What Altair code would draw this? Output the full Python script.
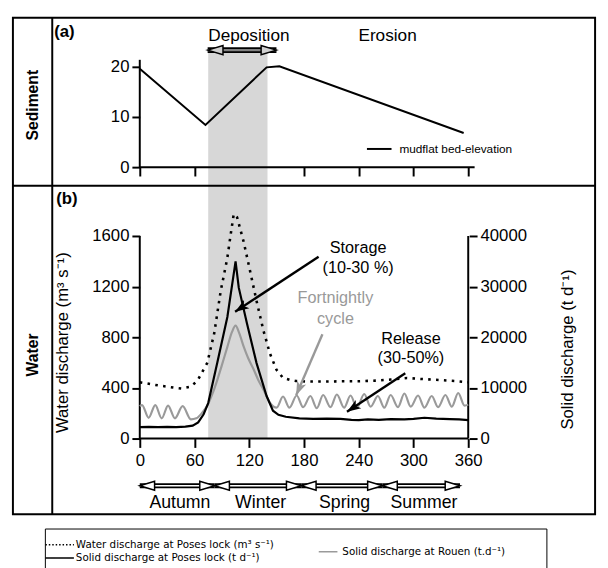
import math
import altair as alt
import pandas as pd

# ---------------- values ----------------
sed_days = [0, 72, 139, 153, 355]
sed_bed_elevation = [19.6, 8.4, 19.9, 20.1, 6.8]

water_days = [0, 10, 20, 30, 40, 46, 55, 63, 68, 74, 81.6, 88.7, 95.9, 99.5, 103, 106.7,
              113.9, 121, 128, 135.5, 142.6, 149.8, 157, 165, 171, 185, 200, 220, 240,
              260, 275, 293, 310, 330, 345, 360]
water_discharge = [445, 432, 420, 410, 400, 395, 408, 453, 520, 598, 831, 1165, 1424, 1605,
                   1773, 1747, 1553, 1320, 1087, 854, 673, 544, 479, 462, 455, 450, 450, 452,
                   453, 458, 466, 478, 470, 462, 455, 445]

poses_days = [0, 10, 20, 30, 40, 50, 58, 64, 70, 75, 85, 96, 105, 108.5, 117.5, 128, 139,
              146, 152, 160, 175, 190, 205, 220, 232, 240, 250, 262, 275, 290, 300, 312,
              325, 340, 350, 360]
poses_solid = [2250, 2300, 2250, 2300, 2250, 2350, 2550, 3200, 4800, 7000, 15000, 24000,
               35000, 29800, 22700, 14900, 8400, 5500, 4700, 4300, 4000, 3900, 3950, 3900,
               3700, 3650, 3800, 3700, 3850, 3800, 3900, 4100, 3950, 3850, 3800, 3650]

rouen_days = [0, 2.5, 9.7, 17, 24, 31, 38.5, 47, 56, 62, 68, 74, 80, 85, 90, 96, 101, 105,
              109, 114, 119, 125, 130, 135.5, 142.6, 150, 157, 164, 172, 179, 187, 194,
              201, 209, 216, 224, 231, 238, 246, 253, 261, 268, 275, 283, 290, 297, 305,
              312, 320, 327, 335, 342, 349, 356, 360]
rouen_solid = [6400, 6600, 4100, 6600, 4000, 6500, 4000, 6400, 3800, 4000, 5000, 6500,
               9000, 11600, 14500, 18100, 21000, 22300, 20800, 18100, 15800, 13600, 11500,
               9700, 7100, 6100, 8300, 6100, 8500, 6200, 8400, 6000, 8600, 6200, 8700,
               6100, 8500, 6100, 8800, 6300, 8400, 6100, 8600, 6200, 8900, 6300, 8500,
               6100, 8400, 6200, 8600, 6300, 9000, 6500, 6700]

x_ticks = [0, 60, 120, 180, 240, 300, 360]
sed_ticks = [0, 10, 20]
water_ticks = [0, 400, 800, 1200, 1600]
solid_ticks = [0, 10000, 20000, 30000, 40000]

deposition_period = [75, 140]
seasons = ["Autumn", "Winter", "Spring", "Summer"]
season_bounds = [0, 82, 177, 266, 351]

sed_series = "mudflat bed-elevation"
legend_labels = ["Water discharge at Poses lock (m³ s⁻¹)",
                 "Solid discharge at Poses lock (t d⁻¹)",
                 "Solid discharge at Rouen (t.d⁻¹)"]

# ---------------- layout ----------------
FONT = "Liberation Sans"
W, H = 592, 505                 # the framed area
PX_DAY = 334 / 360
X0 = 129                        # day 0, px from frame left
SED_PX, SED_Y0 = 5.1, 152       # sediment scale
W_PX, W_Y0 = 206 / 1600, 428    # water scale
S_PX = W_PX / 25                # solid scale (same zero)

x_dom = [-X0 / PX_DAY, (W - X0) / PX_DAY]
sed_dom = [-(H - SED_Y0) / SED_PX, SED_Y0 / SED_PX]
w_dom = [-(H - W_Y0) / W_PX, W_Y0 / W_PX]
s_dom = [v * 25 for v in w_dom]

def sc(dom):
    return alt.Scale(domain=dom, nice=False, zero=False)

AX = dict(domain=False, grid=False, ticks=True, tickColor="black", tickWidth=2,
          labelColor="black", labelFont=FONT, labelFontSize=17, format="d")
xb_axis = alt.Axis(orient="bottom", offset=-(H - W_Y0), values=x_ticks, tickSize=9,
                   labelPadding=5, title=None, **AX)
xa_axis = alt.Axis(orient="bottom", offset=-(H - SED_Y0), values=x_ticks, tickSize=9,
                   labels=False, title=None, **AX)
ya_axis = alt.Axis(orient="left", offset=-X0, values=sed_ticks, tickSize=8,
                   labelPadding=3, title=None, **AX)
yw_axis = alt.Axis(orient="left", offset=-X0, values=water_ticks, tickSize=8, labelPadding=3,
                   title="Water discharge (m³ s⁻¹)", titleFont=FONT, titleFontSize=17,
                   titleFontWeight="normal", titleColor="black", titleAngle=270,
                   titleX=-78, titleY=330, titleAlign="center", titleBaseline="middle", **AX)
ys_axis = alt.Axis(orient="right", offset=-128, values=solid_ticks, tickSize=8, labelPadding=3,
                   title="Solid discharge (t d⁻¹)", titleFont=FONT, titleFontSize=17,
                   titleFontWeight="normal", titleColor="black", titleAngle=270,
                   titleX=100, titleY=337, titleAlign="center", titleBaseline="middle", **AX)

def XB(f): return alt.X(f, type="quantitative", scale=sc(x_dom), axis=xb_axis)
def XS(f): return alt.X(f, type="quantitative", scale=sc(x_dom), axis=None)
def XA(f): return alt.X(f, type="quantitative", scale=sc(x_dom), axis=xa_axis)
def YW(f): return alt.Y(f, type="quantitative", scale=sc(w_dom), axis=yw_axis)
def YS(f): return alt.Y(f, type="quantitative", scale=sc(s_dom), axis=ys_axis)
def YA(f): return alt.Y(f, type="quantitative", scale=sc(sed_dom), axis=ya_axis)

ARROW_UP = "M0,0L-0.62,1.75L0,1.3L0.62,1.75Z"
LEFT_HEAD = "M0,0L1.8,-0.55L1.8,0.55Z"
RIGHT_HEAD = "M0,0L-1.8,-0.55L-1.8,0.55Z"

# ---------------- water panel (left axis) ----------------
band = alt.Chart(pd.DataFrame({"a": [deposition_period[0]], "b": [deposition_period[1]]})).mark_rect(
    color="#d7d7d7").encode(x=XB("a"), x2="b", y=alt.value(35), y2=alt.value(W_Y0))

w_axis_lines = alt.layer(
    alt.Chart(pd.DataFrame({"x": [0], "y": [0], "y2": [water_ticks[-1]]})).mark_rule(
        color="black", strokeWidth=2).encode(x=XB("x"), y=YW("y"), y2="y2"),
    alt.Chart(pd.DataFrame({"x": [0], "x2": [x_ticks[-1]], "y": [0]})).mark_rule(
        color="black", strokeWidth=2).encode(x=XB("x"), x2="x2", y=YW("y")),
)

water_line = alt.Chart(pd.DataFrame({"d": water_days, "q": water_discharge})).mark_line(
    color="black", strokeWidth=2.6, strokeDash=[2.6, 5.4]).encode(x=XB("d"), y=YW("q"))

season_y = (W_Y0 - 488 + 12) / W_PX
season_label_y = (W_Y0 - 506 + 12) / W_PX
sa = pd.DataFrame({"s": season_bounds[:-1], "e": season_bounds[1:], "y": season_y,
                   "name": seasons})
sa["mid"] = (sa["s"] + sa["e"]) / 2 + 3
sa["ly"] = season_label_y
season_body = alt.layer(
    alt.Chart(sa).mark_rule(color="black", strokeWidth=5).encode(x=XB("s"), x2="e", y=YW("y")),
    alt.Chart(sa).mark_rule(color="white", strokeWidth=1.6).encode(x=XB("s"), x2="e", y=YW("y")),
    alt.Chart(sa).mark_point(shape=LEFT_HEAD, size=280, filled=True, fill="white", stroke="black",
                             strokeWidth=1.5, opacity=1).encode(x=XB("s"), y=YW("y")),
    alt.Chart(sa).mark_point(shape=RIGHT_HEAD, size=280, filled=True, fill="white", stroke="black",
                             strokeWidth=1.5, opacity=1).encode(x=XB("e"), y=YW("y")),
    alt.Chart(sa).mark_text(font=FONT, fontSize=18, color="black", baseline="middle").encode(
        x=XB("mid"), y=YW("ly"), text="name:N"),
)

# manual legend below the frame
LEG_FONT = "DejaVu Sans"
leg_box = alt.Chart(pd.DataFrame({"k": [0]})).mark_rect(
    filled=False, stroke="black", strokeWidth=1).encode(
    x=alt.value(33), x2=alt.value(543), y=alt.value(520), y2=alt.value(566))
leg_items = []
sym = [(33, 62, 536, "black", [1.5, 2.0]), (33, 62, 549.5, "black", [1, 0]),
       (311, 330, 543, "#9a9a9a", [1, 0])]
txt = [(64, 536), (64, 549.5), (335, 543)]
for (x1, x2, yy, col, dash), (tx, ty), lab in zip(sym, txt, legend_labels):
    leg_items.append(alt.Chart(pd.DataFrame({"k": [0]})).mark_rule(
        color=col, strokeWidth=1.5, strokeDash=dash).encode(
        x=alt.value(x1), x2=alt.value(x2), y=alt.value(yy)))
    leg_items.append(alt.Chart(pd.DataFrame({"t": [lab]})).mark_text(
        font=LEG_FONT, fontSize=10.5, color="black", align="left", baseline="middle").encode(
        x=alt.value(tx), y=alt.value(ty), text="t:N"))

water_panel = alt.layer(band, w_axis_lines, water_line, season_body, leg_box, *leg_items)

# ---------------- solid discharge (right axis) ----------------
s_axis_line = alt.Chart(pd.DataFrame({"x": [x_ticks[-1]], "y": [0], "y2": [solid_ticks[-1]]})).mark_rule(
    color="black", strokeWidth=2).encode(x=XS("x"), y=YS("y"), y2="y2")
rouen_line = alt.Chart(pd.DataFrame({"d": rouen_days, "v": rouen_solid})).mark_line(
    color="#9a9a9a", strokeWidth=2.2, interpolate="monotone").encode(x=XS("d"), y=YS("v"))
poses_line = alt.Chart(pd.DataFrame({"d": poses_days, "v": poses_solid})).mark_line(
    color="black", strokeWidth=2.2).encode(x=XS("d"), y=YS("v"))

notes = pd.DataFrame({
    "t": ["Storage", "(10-30 %)", "Fortnightly", "cycle", "Release", "(30-50%)"],
    "d": [239.3, 239.3, 214.5, 214.5, 297.2, 297.2],
    "v": [37700, 33700, 27800, 23500, 19600, 15900],
    "c": ["black", "black", "#999999", "#999999", "black", "black"],
})
note_text = alt.Chart(notes).mark_text(font=FONT, fontSize=16.5, baseline="middle").encode(
    x=XS("d"), y=YS("v"), text="t:N", color=alt.Color("c:N", scale=None))

arrows = pd.DataFrame({
    "d1": [196.0, 200.2, 291.0], "v1": [35900, 20600, 12900],
    "d2": [104.5, 171.4, 227.1], "v2": [25048, 8543, 5301],
    "c": ["black", "#999999", "black"],
})
# rotation of an up-pointing head so that it follows the line, in screen pixels
arrows["ang"] = [
    math.degrees(math.atan2((r.d2 - r.d1) * PX_DAY, (r.v2 - r.v1) * S_PX)) % 360
    for r in arrows.itertuples()
]
arrow_lines = alt.Chart(arrows).mark_rule(strokeWidth=2.4).encode(
    x=XS("d1"), y=YS("v1"), x2="d2", y2="v2", color=alt.Color("c:N", scale=None))
arrow_heads = alt.Chart(arrows).mark_point(shape=ARROW_UP, size=260, filled=True, opacity=1).encode(
    x=XS("d2"), y=YS("v2"), color=alt.Color("c:N", scale=None),
    angle=alt.Angle("ang:Q", scale=None))

solid_panel = alt.layer(s_axis_line, rouen_line, poses_line, arrow_lines, arrow_heads, note_text)

# ---------------- sediment panel ----------------
a_axis_lines = alt.layer(
    alt.Chart(pd.DataFrame({"x": [0], "y": [0], "y2": [21.4]})).mark_rule(
        color="black", strokeWidth=2).encode(x=XA("x"), y=YA("y"), y2="y2"),
    alt.Chart(pd.DataFrame({"x": [0], "x2": [367], "y": [0]})).mark_rule(
        color="black", strokeWidth=2).encode(x=XA("x"), x2="x2", y=YA("y")),
)
sed_line = alt.Chart(pd.DataFrame({"d": sed_days, "v": sed_bed_elevation, "s": sed_series})).mark_line(
    strokeWidth=2).encode(
    x=XA("d"), y=YA("v"),
    color=alt.Color("s:N", scale=alt.Scale(domain=[sed_series], range=["black"]),
                    legend=alt.Legend(orient="none", legendX=359, legendY=120, title=None,
                                      symbolType="stroke", symbolSize=625, symbolStrokeWidth=2,
                                      labelFont=FONT, labelFontSize=12, labelColor="black",
                                      labelOffset=7, padding=0)))

dep = pd.DataFrame({"a": [74.4], "b": [149.8], "y": [(SED_Y0 - 45 + 12) / SED_PX]})
dep_arrow = alt.layer(
    alt.Chart(dep).mark_rule(color="black", strokeWidth=6).encode(x=XA("a"), x2="b", y=YA("y")),
    alt.Chart(dep).mark_rule(color="#808080", strokeWidth=2.4).encode(x=XA("a"), x2="b", y=YA("y")),
    alt.Chart(dep).mark_point(shape=LEFT_HEAD, size=300, filled=True, fill="#cfcfcf", stroke="black",
                              strokeWidth=1.5, opacity=1).encode(x=XA("a"), y=YA("y")),
    alt.Chart(dep).mark_point(shape=RIGHT_HEAD, size=300, filled=True, fill="#cfcfcf", stroke="black",
                              strokeWidth=1.5, opacity=1).encode(x=XA("b"), y=YA("y")),
)
phase = pd.DataFrame({"t": ["Deposition", "Erosion"], "d": [119.6, 271.6],
                      "v": [(SED_Y0 - 31 + 12) / SED_PX] * 2})
phase_text = alt.Chart(phase).mark_text(font=FONT, fontSize=17.5, color="black",
                                        baseline="middle").encode(x=XA("d"), y=YA("v"), text="t:N")

one = pd.DataFrame({"k": [0]})
frame_parts = [
    alt.Chart(one).mark_rule(color="black", strokeWidth=2).encode(
        x=alt.value(40), y=alt.value(0), y2=alt.value(H)),
    alt.Chart(one).mark_rule(color="black", strokeWidth=2).encode(
        y=alt.value(171), x=alt.value(0), x2=alt.value(W)),
]
for t, x, y, ang, al in [("(a)", 42, 14.5, 0, "left"), ("(b)", 44, 184, 0, "left"),
                         ("Sediment", 21, 89, 270, "center"), ("Water", 21, 343, 270, "center")]:
    frame_parts.append(alt.Chart(pd.DataFrame({"t": [t]})).mark_text(
        font=FONT, fontSize=17 if ang == 0 else 16, fontWeight="bold", color="black",
        align=al, baseline="middle", angle=ang).encode(x=alt.value(x), y=alt.value(y), text="t:N"))

sed_panel = alt.layer(a_axis_lines, sed_line, dep_arrow, phase_text, *frame_parts)

chart = alt.layer(water_panel, solid_panel, sed_panel).resolve_scale(
    x="independent", y="independent", color="independent"
).properties(
    width=W, height=H, padding={"left": 4, "top": 4, "right": 4, "bottom": 0}, background="white"
).configure_view(stroke="black", strokeWidth=2)

chart.save("out.html", embed_options={"renderer": "svg", "actions": False})
